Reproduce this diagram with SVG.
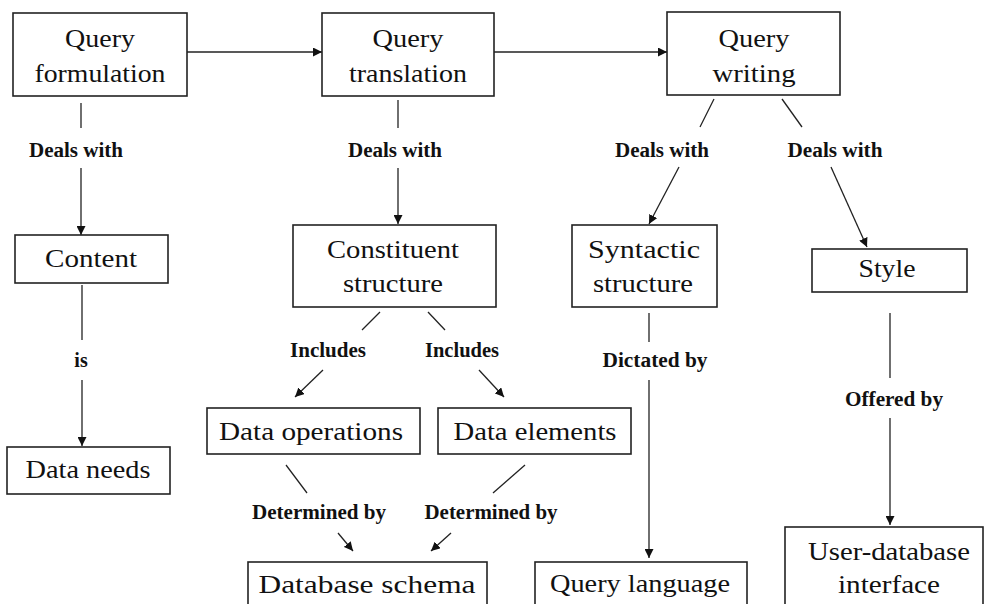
<svg xmlns="http://www.w3.org/2000/svg" width="984" height="604" viewBox="0 0 984 604">
<style>
.box{fill:#fff;stroke:#222;stroke-width:1.6}
.t{font-family:"Liberation Serif","Times New Roman",serif;font-size:26px;fill:#111;text-anchor:middle}
.l{font-family:"Liberation Serif","Times New Roman",serif;font-size:20px;font-weight:bold;fill:#111;text-anchor:middle}
.c{stroke:#222;stroke-width:1.3;fill:none}
.a{stroke:#222;stroke-width:1.3;fill:none;marker-end:url(#ah)}
</style>
<defs>
<marker id="ah" viewBox="0 0 10 10" refX="10" refY="5" markerWidth="9" markerHeight="9" markerUnits="userSpaceOnUse" orient="auto">
<path d="M0,0 L10,5 L0,10 Z" fill="#111"/>
</marker>
</defs>
<rect width="984" height="604" fill="#fff"/>
<g id="connectors">
<line class="a" x1="187" y1="52" x2="322" y2="52"/>
<line class="a" x1="494" y1="52" x2="667" y2="52"/>
<line class="c" x1="81" y1="103" x2="81" y2="128"/>
<text class="l" x="76" y="157" textLength="94" lengthAdjust="spacingAndGlyphs">Deals with</text>
<line class="a" x1="81" y1="168" x2="81" y2="235"/>
<line class="c" x1="82" y1="285" x2="82" y2="340"/>
<text class="l" x="81" y="367">is</text>
<line class="a" x1="82" y1="380" x2="82" y2="446"/>
<line class="c" x1="398" y1="100" x2="398" y2="128"/>
<text class="l" x="395" y="157" textLength="94" lengthAdjust="spacingAndGlyphs">Deals with</text>
<line class="a" x1="398" y1="168" x2="398" y2="224"/>
<line class="c" x1="714" y1="99" x2="700" y2="127"/>
<text class="l" x="662" y="157" textLength="94" lengthAdjust="spacingAndGlyphs">Deals with</text>
<line class="a" x1="679" y1="167" x2="649" y2="224"/>
<line class="c" x1="782" y1="99" x2="802" y2="127"/>
<text class="l" x="835" y="157" textLength="95" lengthAdjust="spacingAndGlyphs">Deals with</text>
<line class="a" x1="831" y1="167" x2="867" y2="247"/>
<line class="c" x1="380" y1="312" x2="362" y2="330"/>
<text class="l" x="328" y="357" textLength="76" lengthAdjust="spacingAndGlyphs">Includes</text>
<line class="a" x1="323" y1="370" x2="295" y2="397"/>
<line class="c" x1="428" y1="312" x2="445" y2="330"/>
<text class="l" x="462" y="357" textLength="74" lengthAdjust="spacingAndGlyphs">Includes</text>
<line class="a" x1="479" y1="370" x2="504" y2="397"/>
<line class="c" x1="286" y1="465" x2="307" y2="493"/>
<text class="l" x="319" y="519" textLength="134" lengthAdjust="spacingAndGlyphs">Determined by</text>
<line class="a" x1="338" y1="533" x2="353" y2="551"/>
<line class="c" x1="525" y1="465" x2="493" y2="493"/>
<text class="l" x="491" y="519" textLength="133" lengthAdjust="spacingAndGlyphs">Determined by</text>
<line class="a" x1="451" y1="533" x2="431" y2="551"/>
<line class="c" x1="649" y1="313" x2="649" y2="342"/>
<text class="l" x="655" y="367" textLength="105" lengthAdjust="spacingAndGlyphs">Dictated by</text>
<line class="a" x1="649" y1="380" x2="649" y2="558"/>
<line class="c" x1="890" y1="313" x2="890" y2="378"/>
<text class="l" x="894" y="406" textLength="98" lengthAdjust="spacingAndGlyphs">Offered by</text>
<line class="a" x1="890" y1="418" x2="890" y2="525"/>
</g>
<g id="query-formulation">
<rect class="box" x="13" y="13" width="174" height="83"/>
<text class="t" x="100" y="47" textLength="70" lengthAdjust="spacingAndGlyphs">Query</text>
<text class="t" x="100" y="82" textLength="131" lengthAdjust="spacingAndGlyphs">formulation</text>
</g>
<g id="query-translation">
<rect class="box" x="322" y="13" width="172" height="83"/>
<text class="t" x="408" y="47" textLength="71" lengthAdjust="spacingAndGlyphs">Query</text>
<text class="t" x="408" y="82" textLength="118" lengthAdjust="spacingAndGlyphs">translation</text>
</g>
<g id="query-writing">
<rect class="box" x="667" y="12" width="173" height="83"/>
<text class="t" x="754" y="47" textLength="71" lengthAdjust="spacingAndGlyphs">Query</text>
<text class="t" x="754" y="82" textLength="83" lengthAdjust="spacingAndGlyphs">writing</text>
</g>
<g id="content">
<rect class="box" x="15" y="235" width="153" height="48"/>
<text class="t" x="91" y="267" textLength="92" lengthAdjust="spacingAndGlyphs">Content</text>
</g>
<g id="data-needs">
<rect class="box" x="7" y="447" width="163" height="47"/>
<text class="t" x="88" y="478" textLength="125" lengthAdjust="spacingAndGlyphs">Data needs</text>
</g>
<g id="constituent-structure">
<rect class="box" x="293" y="225" width="203" height="82"/>
<text class="t" x="393" y="258" textLength="132" lengthAdjust="spacingAndGlyphs">Constituent</text>
<text class="t" x="393" y="292" textLength="100" lengthAdjust="spacingAndGlyphs">structure</text>
</g>
<g id="syntactic-structure">
<rect class="box" x="572" y="225" width="145" height="82"/>
<text class="t" x="644" y="258" textLength="112" lengthAdjust="spacingAndGlyphs">Syntactic</text>
<text class="t" x="643" y="292" textLength="100" lengthAdjust="spacingAndGlyphs">structure</text>
</g>
<g id="style">
<rect class="box" x="812" y="249" width="155" height="43"/>
<text class="t" x="887" y="277" textLength="57" lengthAdjust="spacingAndGlyphs">Style</text>
</g>
<g id="data-operations">
<rect class="box" x="207" y="408" width="213" height="46"/>
<text class="t" x="311" y="440" textLength="184" lengthAdjust="spacingAndGlyphs">Data operations</text>
</g>
<g id="data-elements">
<rect class="box" x="438" y="408" width="193" height="46"/>
<text class="t" x="535" y="440" textLength="163" lengthAdjust="spacingAndGlyphs">Data elements</text>
</g>
<g id="database-schema">
<rect class="box" x="248" y="562" width="239" height="50"/>
<text class="t" x="367" y="593" textLength="217" lengthAdjust="spacingAndGlyphs">Database schema</text>
</g>
<g id="query-language">
<rect class="box" x="535" y="562" width="212" height="50"/>
<text class="t" x="640" y="592" textLength="180" lengthAdjust="spacingAndGlyphs">Query language</text>
</g>
<g id="user-database-interface">
<rect class="box" x="785" y="527" width="198" height="85"/>
<text class="t" x="889" y="560" textLength="162" lengthAdjust="spacingAndGlyphs">User-database</text>
<text class="t" x="889" y="593" textLength="102" lengthAdjust="spacingAndGlyphs">interface</text>
</g>
</svg>
